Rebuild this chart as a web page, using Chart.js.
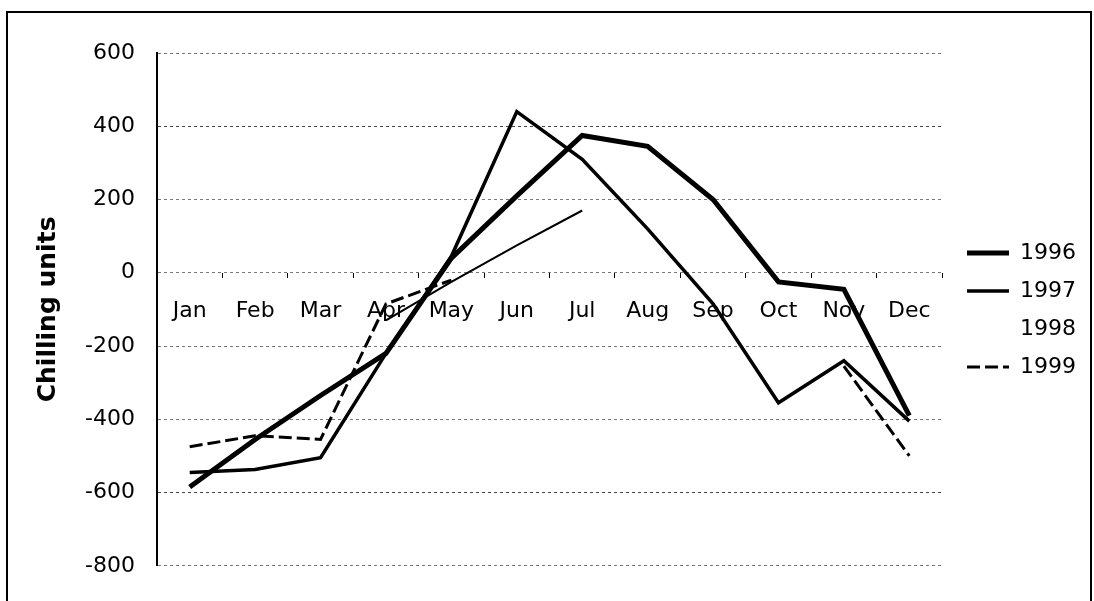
<!DOCTYPE html>
<html>
<head>
<meta charset="utf-8">
<script src="https://cdn.jsdelivr.net/npm/chart.js@4"></script>
<style>
  html, body { margin: 0; padding: 0; background: #fff; }
  #wrap { position: relative; width: 1094px; height: 601px; overflow: hidden; }
  #frame { position: absolute; left: 6px; top: 11px; width: 1086px; height: 620px;
           border: 2px solid #000; box-sizing: border-box; pointer-events: none; }
  canvas { position: absolute; left: 0; top: 0; }
</style>
</head>
<body>
<div id="wrap">
  <canvas id="myChart" width="1094" height="601"></canvas>
  <div id="frame"></div>
</div>
<script>
// Месяцы и значения по годам
const months = ['Jan', 'Feb', 'Mar', 'Apr', 'May', 'Jun', 'Jul', 'Aug', 'Sep', 'Oct', 'Nov', 'Dec'];
const years = ['1996', '1997', '1998', '1999'];
const s1996 = [-585, -455, -335, -220, 40, 210, 375, 345, 200, -25, -45, -390];
const s1997 = [-545, -537, -505, -220, 45, 440, 310, 120, -85, -355, -240, -405];
const s1998 = [null, null, null, -130, -25, 75, 170, null, null, null, null, null];
const s1999 = [-475, -445, -455, -85, -20, null, null, null, null, null, -255, -500];
const yTicks = [600, 400, 200, 0, -200, -400, -600, -800];

const FONT = 'Verdana, "DejaVu Sans", sans-serif';
Chart.defaults.font.family = FONT;
Chart.defaults.color = '#000';

const gridColor = '#777';

new Chart(document.getElementById('myChart').getContext('2d'), {
  type: 'line',
  data: {
    labels: months,
    datasets: [
      { label: years[0], data: s1996, borderColor: '#000', borderWidth: 5 },
      { label: years[1], data: s1997, borderColor: '#000', borderWidth: 3.5 },
      { label: years[2], data: s1998, borderColor: '#000', borderWidth: 2 },
      { label: years[3], data: s1999, borderColor: '#000', borderWidth: 3, borderDash: [13, 5] }
    ]
  },
  options: {
    responsive: false,
    animation: false,
    layout: { padding: { top: 53, bottom: 34, left: 31, right: 8 } },
    elements: {
      point: { radius: 0 },
      line: { tension: 0, borderCapStyle: 'butt', borderJoinStyle: 'miter' }
    },
    scales: {
      x: {
        type: 'category',
        position: { y: 0 },
        offset: true,
        grid: {
          offset: true,
          drawOnChartArea: true,
          drawTicks: true,
          tickLength: 5,
          // только правая рамка области графика видна
          color: ctx => (ctx.index === months.length ? gridColor : 'rgba(0,0,0,0)'),
          tickColor: '#000'
        },
        border: { display: false, dash: [3, 3] },
        ticks: { font: { size: 22 }, padding: 20, maxRotation: 0, autoSkip: false }
      },
      y: {
        min: -800,
        max: 600,
        afterFit(scale) { scale.width = 126; },
        afterBuildTicks(scale) { scale.ticks = yTicks.map(v => ({ value: v })); },
        grid: {
          color: ctx => (ctx.tick && (ctx.tick.value === 400 || ctx.tick.value === -600) ? '#444' : gridColor),
          drawTicks: false,
          lineWidth: 1
        },
        border: { display: true, color: '#000', width: 2, dash: [3, 3] },
        ticks: { font: { size: 22 }, padding: 22 },
        title: {
          display: true,
          text: 'Chilling units',
          font: { size: 25, weight: 'bold' },
          padding: { top: 2, bottom: 0 }
        }
      },
      yRight: {
        position: 'right',
        min: -800,
        max: 600,
        afterFit(scale) { scale.width = 9; },
        grid: { drawOnChartArea: false, drawTicks: false },
        border: { display: false },
        ticks: { display: false }
      }
    },
    plugins: {
      tooltip: { enabled: false },
      legend: {
        position: 'right',
        align: 'center',
        labels: {
          font: { size: 22 },
          color: '#000',
          usePointStyle: true,
          pointStyle: 'line',
          pointStyleWidth: 42,
          padding: 16,
          generateLabels(chart) {
            const items = Chart.defaults.plugins.legend.labels.generateLabels(chart);
            items.forEach(it => {
              const ds = chart.data.datasets[it.datasetIndex];
              it.lineWidth = ds.borderWidth;
              it.lineDash = ds.borderDash || [];
              // 1998 в легенде без линии (как на скане)
              if (it.text === '1998') it.strokeStyle = 'rgba(0,0,0,0)';
            });
            return items;
          }
        }
      }
    }
  }
});
</script>
</body>
</html>
